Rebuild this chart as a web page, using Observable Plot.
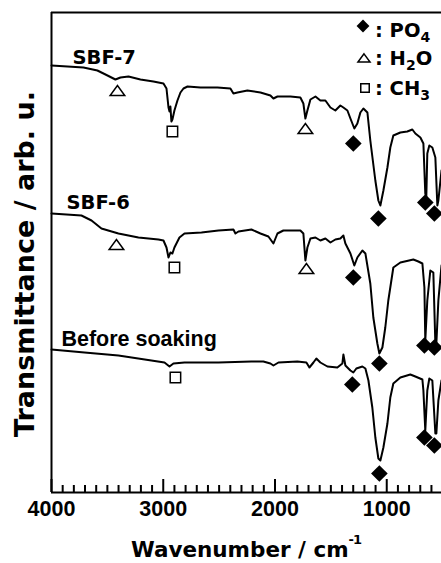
<!DOCTYPE html>
<html>
<head>
<meta charset="utf-8">
<script src="https://cdn.jsdelivr.net/npm/d3@7"></script>
<script src="https://cdn.jsdelivr.net/npm/@observablehq/plot@0.6"></script>
<style>
  html, body { margin: 0; padding: 0; background: #fff; }
  #wrap { position: relative; width: 441px; height: 563px; overflow: hidden; background: #fff; }
  #chart svg { display: block; }
  .xlabel { position: absolute; left: 51px; width: 390px; top: 539px; text-align: center;
            font: bold 21.5px "DejaVu Sans", sans-serif; line-height: 21.5px; color: #000; white-space: nowrap; }
  .xlabel sup { font-size: 13px; vertical-align: 13px; line-height: 0; letter-spacing: -1px; }
  .legtext { position: absolute; left: 375px; font: bold 19.5px "DejaVu Sans", sans-serif;
             line-height: 19.5px; color: #000; white-space: nowrap; }
  .legtext sub { font-size: 14px; vertical-align: -5px; line-height: 0; }
  .legsym { position: absolute; width: 20px; height: 20px; overflow: visible; }
</style>
</head>
<body>
<div id="wrap">
  <div id="chart"></div>
  <div class="xlabel">Wavenumber / cm<sup>-1</sup></div>
</div>
<script>
// ---------- data (wavenumber in cm^-1, transmittance in arbitrary units) ----------
const majorTicks = [4000, 3000, 2000, 1000];
const minorTicks = [3900, 3800, 3700, 3600, 3500, 3400, 3300, 3200, 3100,
                    2900, 2800, 2700, 2600, 2500, 2400, 2300, 2200, 2100,
                    1900, 1800, 1700, 1600, 1500, 1400, 1300, 1200, 1100,
                    900, 800, 700, 600];

const sbf7 = [
  [4000,427],[3857,426],[3714,425],[3589,422],[3499,417],[3428,413],[3383,415],[3311,416],
  [3204,413],[3088,411],[2998,409],[2971,404],[2953,385],[2944,381],[2936,386],[2927,371],
  [2918,373],[2900,382],[2873,392],[2846,400],[2819,404],[2783,406],[2667,405],[2515,405],
  [2399,404],[2372,399],[2336,400],[2247,402],[2130,400],[2041,397],[2014,394],[1978,396],
  [1862,396],[1773,395],[1746,389],[1728,374],[1710,382],[1683,393],[1638,396],[1594,392],
  [1549,392],[1504,385],[1460,382],[1415,387],[1388,385],[1352,382],[1325,374],[1290,364],
  [1263,369],[1236,380],[1209,384],[1173,380],[1147,352],[1102,312],[1075,292],[1057,287],
  [1030,302],[994,325],[968,345],[941,357],[878,360],[816,361],[771,363],[744,359],
  [699,355],[672,349],[655,299],[646,295],[637,339],[619,347],[592,345],[565,335],
  [547,287],[538,292],[510,322]
];
const sbf6 = [
  [4000,279],[3732,277],[3642,272],[3553,264],[3401,259],[3222,255],[3043,253],[2998,252],
  [2971,245],[2953,235],[2936,240],[2918,239],[2900,245],[2855,255],[2810,259],[2658,260],
  [2506,262],[2372,263],[2354,259],[2327,261],[2211,263],[2130,259],[2059,256],[2014,249],
  [1978,259],[1925,262],[1773,262],[1746,259],[1728,232],[1710,245],[1683,254],[1638,255],
  [1594,252],[1549,254],[1504,250],[1460,253],[1415,254],[1388,257],[1370,249],[1325,239],
  [1290,227],[1263,235],[1218,242],[1191,239],[1147,209],[1120,175],[1084,149],[1066,139],
  [1039,145],[1013,165],[986,192],[941,225],[878,230],[762,233],[717,231],[681,229],
  [663,205],[655,152],[637,192],[610,222],[583,220],[565,149],[556,149],[538,192],[510,227]
];
const beforeSoaking = [
  [4000,143],[3705,140],[3401,137],[3106,132],[2989,130],[2944,126],[2909,129],[2810,130],
  [2506,130],[2211,131],[2104,131],[2041,129],[2014,127],[1969,130],[1800,131],[1719,130],
  [1692,125],[1656,130],[1630,134],[1594,130],[1531,126],[1442,125],[1397,129],[1388,138],
  [1370,127],[1325,122],[1299,120],[1272,124],[1218,126],[1191,124],[1164,112],[1129,85],
  [1102,55],[1075,34],[1057,32],[1030,45],[994,69],[968,95],[941,109],[878,115],
  [789,118],[744,116],[681,113],[672,102],[655,62],[637,102],[619,114],[592,112],
  [565,59],[556,59],[538,92],[510,112]
];

// band markers: [group, wavenumber, transmittance]
const sbf7Markers = [["H2O",3410,402],["CH3",2918,361],["H2O",1728,364],["PO4",1299,349],
                     ["PO4",1075,274],["PO4",655,290],["PO4",574,279]];
const sbf6Markers = [["H2O",3419,248],["CH3",2900,225],["H2O",1719,224],["PO4",1299,215],
                     ["PO4",1066,129],["PO4",663,147],["PO4",574,145]];
const beforeMarkers = [["CH3",2891,115],["PO4",1308,108],["PO4",1066,19],
                       ["PO4",663,55],["PO4",574,47]];

// series labels: [text, wavenumber, transmittance]
const seriesLabels = [["SBF-7",3812,429],["SBF-6",3866,284],["Before soaking",3911,147]];

// ---------- build tables ----------
const spectra = [
  ...sbf7.map(([wn, t]) => ({series: "SBF-7", wn, t})),
  ...sbf6.map(([wn, t]) => ({series: "SBF-6", wn, t})),
  ...beforeSoaking.map(([wn, t]) => ({series: "Before soaking", wn, t}))
];
const markers = [...sbf7Markers, ...sbf6Markers, ...beforeMarkers]
  .map(([group, wn, t]) => ({group, wn, t}));
const labels = seriesLabels.map(([name, wn, t]) => ({name, wn, t}));

const flatTriangle = {
  draw(context, size) {
    const r = Math.sqrt(size / Math.PI), h = r * 0.68;
    context.moveTo(0, -h); context.lineTo(r, h); context.lineTo(-r, h); context.closePath();
  }
};

const yDomain = [0, 480];
const frameHeight = 480;
const unitsPerPx = (yDomain[1] - yDomain[0]) / frameHeight;
const minorLen = 7 * unitsPerPx, majorLen = 13 * unitsPerPx;   // inward tick lengths

const chart = Plot.plot({
  width: 441, height: 520,
  marginLeft: 51, marginRight: 0, marginTop: 12, marginBottom: 28,
  style: {fontFamily: "'Liberation Sans', Arial, sans-serif", fontSize: "21px", fontWeight: "bold",
          background: "white", overflow: "visible", color: "black"},
  x: {domain: [4000, 510]},
  y: {domain: yDomain, axis: null},
  marks: [
    Plot.ruleX([4000], {strokeWidth: 2}),
    Plot.ruleY([yDomain[0]], {strokeWidth: 2}),
    Plot.ruleY([yDomain[1]], {strokeWidth: 2}),
    Plot.ruleX(minorTicks, {x: d => d, y1: yDomain[0], y2: yDomain[0] + minorLen, stroke: "black", strokeWidth: 2}),
    Plot.ruleX(majorTicks, {x: d => d, y1: yDomain[0], y2: yDomain[0] + majorLen, stroke: "black", strokeWidth: 2}),
    Plot.axisX({ticks: majorTicks, tickSize: 0, tickPadding: 8, tickFormat: d => String(d),
                label: null, fontSize: 21.5, fontWeight: "bold", fontFamily: "Liberation Sans"}),
    Plot.line(spectra, {x: "wn", y: "t", z: "series", stroke: "black", strokeWidth: 2,
                        strokeLinejoin: "round"}),
    Plot.dot(markers.filter(d => d.group === "PO4"),
             {x: "wn", y: "t", symbol: "diamond2", r: 7.5, fill: "black", stroke: null}),
    Plot.dot(markers.filter(d => d.group === "H2O"),
             {x: "wn", y: "t", symbol: flatTriangle, r: 7.3, fill: "white", stroke: "black", strokeWidth: 1.5}),
    Plot.dot(markers.filter(d => d.group === "CH3"),
             {x: "wn", y: "t", symbol: "square", r: 5.9, fill: "white", stroke: "black", strokeWidth: 1.5}),
    Plot.text(labels.filter(d => d.name !== "Before soaking"),
              {x: "wn", y: "t", text: "name", textAnchor: "start", lineAnchor: "bottom",
               fontFamily: "DejaVu Sans", fontSize: 19.5, fontWeight: "bold", fill: "black"}),
    Plot.text(labels.filter(d => d.name === "Before soaking"),
              {x: "wn", y: "t", text: "name", textAnchor: "start", lineAnchor: "bottom",
               fontFamily: "Liberation Sans", fontSize: 21.5, fontWeight: "bold", fill: "black"}),
    Plot.text(["Transmittance / arb. u."],
              {frameAnchor: "left", rotate: -90, dx: -18, dy: 11.5, textAnchor: "middle", lineAnchor: "bottom",
               fontFamily: "DejaVu Sans", fontSize: 27, fontWeight: "bold", fill: "black"})
  ]
});
document.getElementById("chart").appendChild(chart);

// ---------- legend (symbol key, top right) ----------
const legendItems = [
  {type: d3.symbolDiamond2, size: 105, fill: "black", cx: 363, cy: 25.5, baseline: 37.5, html: ": PO<sub>4</sub>"},
  {type: flatTriangle, size: 115, fill: "white", cx: 364, cy: 58, baseline: 65, html: ": H<sub>2</sub>O"},
  {type: d3.symbolSquare, size: 72, fill: "white", cx: 365, cy: 88, baseline: 95.5, html: ": CH<sub>3</sub>"}
];
const wrap = document.getElementById("wrap");
for (const it of legendItems) {
  const svg = d3.create("svg").attr("class", "legsym")
    .style("left", (it.cx - 10) + "px").style("top", (it.cy - 10) + "px");
  svg.append("path").attr("transform", "translate(10,10)")
    .attr("d", d3.symbol(it.type, it.size)())
    .attr("fill", it.fill).attr("stroke", "black").attr("stroke-width", it.fill === "black" ? 0 : 1.5);
  wrap.appendChild(svg.node());
  const t = document.createElement("div");
  t.className = "legtext";
  t.style.top = (it.baseline - 16.5) + "px";
  t.innerHTML = it.html;
  wrap.appendChild(t);
}
</script>
</body>
</html>
